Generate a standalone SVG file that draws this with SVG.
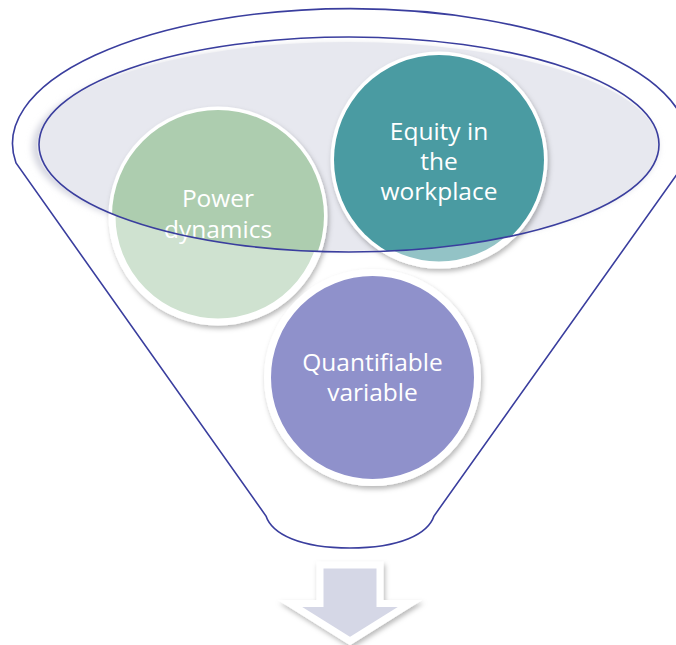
<svg xmlns="http://www.w3.org/2000/svg" width="676" height="645" viewBox="0 0 676 645">
  <defs>
    <style>
      .outline { fill: none; stroke: #3a3e9e; stroke-width: 1.6; }
      .ring { stroke: #ffffff; stroke-width: 7; }
      .label { font-family: "Open Sans", "Noto Sans", sans-serif; font-size: 24.5px; fill: #ffffff; text-anchor: middle; }
    </style>
    <filter id="shadow" x="-20%" y="-20%" width="140%" height="140%">
      <feDropShadow dx="1.5" dy="3" stdDeviation="2.5" flood-color="#000000" flood-opacity="0.28"/>
    </filter>
    <filter id="soft" x="-10%" y="-10%" width="120%" height="120%">
      <feGaussianBlur stdDeviation="3"/>
    </filter>
    <clipPath id="bowl">
      <ellipse cx="349" cy="144.5" rx="310" ry="107.5"/>
    </clipPath>
  </defs>

  <rect width="676" height="645" fill="#ffffff"/>

  <!-- funnel body -->
  <g id="funnel">
    <ellipse cx="345" cy="147" rx="313" ry="103" fill="#d6d7e0" filter="url(#soft)"/>
    <ellipse cx="348" cy="146" rx="311" ry="104" fill="#e7e8ef"/>
    <path class="outline" d="M 16,163 A 338 135 0 1 1 685,163 L 434,516 C 428,534 400,548 350,548 C 300,548 272,534 266,516 Z"/>
  </g>

  <!-- Power dynamics -->
  <g id="node-power">
    <circle class="ring" cx="218" cy="216" r="106" fill="#cfe2d0" filter="url(#shadow)"/>
    <circle cx="218" cy="216" r="106" fill="#adcdaf" clip-path="url(#bowl)"/>
    <text class="label" x="218" y="207">Power</text>
    <text class="label" x="218" y="238">dynamics</text>
  </g>

  <!-- Equity in the workplace -->
  <g id="node-equity">
    <circle class="ring" cx="439" cy="160" r="105" fill="#93c3c6" filter="url(#shadow)"/>
    <circle cx="439" cy="160" r="105" fill="#4a9ba2" clip-path="url(#bowl)"/>
    <text class="label" x="439" y="140">Equity in</text>
    <text class="label" x="439" y="170">the</text>
    <text class="label" x="439" y="200">workplace</text>
  </g>

  <!-- rim of the funnel drawn over the circles -->
  <ellipse class="outline" cx="349" cy="144.5" rx="310" ry="107.5"/>

  <!-- Quantifiable variable -->
  <g id="node-quantifiable">
    <circle class="ring" cx="372.5" cy="377.5" r="105" fill="#8f91cb" filter="url(#shadow)"/>
    <text class="label" x="372.5" y="371">Quantifiable</text>
    <text class="label" x="372.5" y="401">variable</text>
  </g>

  <!-- output arrow -->
  <g id="connectors">
    <path d="M 320,565 L 380,565 L 380,603.5 L 410,603.5 L 350,641 L 290,603.5 L 320,603.5 Z" fill="#d5d7e6" stroke="#ffffff" stroke-width="7" filter="url(#shadow)"/>
  </g>
</svg>
